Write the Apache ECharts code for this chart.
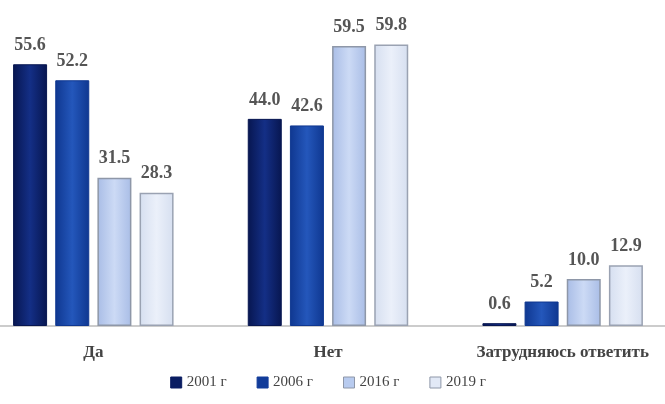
<!DOCTYPE html>
<html>
<head>
<meta charset="utf-8">
<script src="https://cdn.jsdelivr.net/npm/echarts@6/dist/echarts.min.js"></script>
<style>html,body{margin:0;padding:0;background:#fff;overflow:hidden;width:665px;height:404px}#c{width:704px;height:404px;margin-left:-24px}</style>
</head>
<body>
<div id="c"></div>
<script>
var categories = ['Да', 'Нет', 'Затрудняюсь ответить'];
var seriesNames = ['2001 г', '2006 г', '2016 г', '2019 г'];
var v2001 = [55.6, 44.0, 0.6];
var v2006 = [52.2, 42.6, 5.2];
var v2016 = [31.5, 59.5, 10.0];
var v2019 = [28.3, 59.8, 12.9];

function grad(edge, mid) {
  return new echarts.graphic.LinearGradient(0, 0, 1, 0, [
    {offset: 0, color: edge}, {offset: 0.5, color: mid}, {offset: 1, color: edge}
  ]);
}
var styles = [
  {color: grad('#071650', '#142f86'), borderColor: '#071650', borderWidth: 1},
  {color: grad('#0f3790', '#2457bb'), borderColor: '#0f3790', borderWidth: 1},
  {color: grad('#a9bde6', '#ccdaf5'), borderColor: '#8e97a8', borderWidth: 1.5},
  {color: grad('#d6dff0', '#ebf0fa'), borderColor: '#9aa2b2', borderWidth: 1.5}
];
var legendColors = ['#0a1d62', '#123c9a', '#b8cbef', '#e2e9f6'];
var data = [v2001, v2006, v2016, v2019];

var chart = echarts.init(document.getElementById('c'));
chart.setOption({
  animation: false,
  backgroundColor: '#ffffff',
  legend: {
    bottom: 9,
    left: 'center',
    itemWidth: 11,
    itemHeight: 11,
    itemGap: 30,
    icon: 'rect',
    textStyle: {fontFamily: 'Liberation Serif', fontSize: 15, color: '#444'},
    data: seriesNames.map(function (n, i) {
      return {name: n, itemStyle: {color: legendColors[i], borderColor: i > 1 ? '#8e97a8' : legendColors[i], borderWidth: 1}};
    })
  },
  grid: {left: 0, right: 0, top: 20, bottom: 78},
  xAxis: {
    type: 'category',
    data: categories,
    axisLine: {lineStyle: {color: '#bbbbbb', width: 1.5}},
    axisTick: {show: false},
    axisLabel: {margin: 18, fontFamily: 'Liberation Serif', fontSize: 17, fontWeight: 'bold', color: '#444'}
  },
  yAxis: {
    type: 'value', min: 0, max: 65, show: false,
    splitLine: {show: false}
  },
  series: seriesNames.map(function (n, i) {
    return {
      name: n,
      type: 'bar',
      data: data[i],
      barWidth: 34,
      barGap: '24%',
      itemStyle: styles[i],
      label: {
        show: true, position: 'top', distance: 10,
        fontFamily: 'Liberation Serif', fontSize: 18, fontWeight: 'bold', color: '#555',
        formatter: function (p) { return p.value.toFixed(1); }
      }
    };
  })
});
</script>
</body>
</html>
